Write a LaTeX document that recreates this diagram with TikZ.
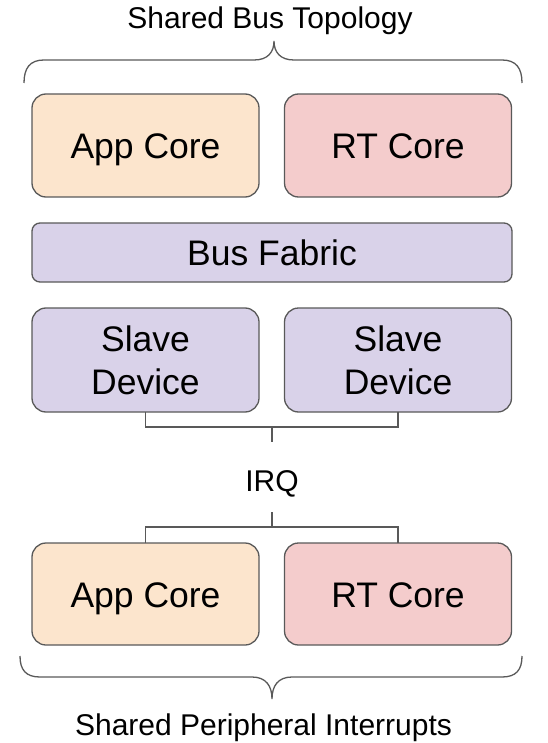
\documentclass[tikz,border=0pt]{standalone}
\usepackage{fontspec}
\setmainfont{Liberation Sans}
\usepackage{tikz}
\usepackage{xcolor}
\definecolor{appcol}{HTML}{FCE5CD}
\definecolor{rtcol}{HTML}{F4CCCC}
\definecolor{buscol}{HTML}{D9D2E9}
\definecolor{edgecol}{HTML}{595959}

\begin{document}
\begin{tikzpicture}[>=latex, x=1pt, y=-1pt,
    blk/.style={draw=edgecol, line width=1.3pt, rounded corners=14pt, inner sep=0pt, outer sep=0pt,
      minimum width=227pt, align=center, font=\fontsize{35.5}{43}\selectfont},
    oneline/.style={text height=26pt, text depth=0pt},
    lbl/.style={inner sep=0pt, font=\fontsize{30}{36}\selectfont},
    wire/.style={draw=edgecol, line width=1.3pt}]
      \pgfmathsetmacro{\xl}{145.5}
      \pgfmathsetmacro{\xr}{398}
      \pgfmathsetmacro{\xm}{272}
      \pgfmathsetmacro{\ya}{145.5}
      \pgfmathsetmacro{\yb}{252.5}
      \pgfmathsetmacro{\ys}{360}
      \pgfmathsetmacro{\yc}{594}
      \useasboundingbox (0,0) rectangle (547,743);

      \node[blk, oneline, fill=appcol, minimum height=103pt] (app1) at (\xl,\ya) {App Core};
      \node[blk, oneline, fill=rtcol, minimum height=103pt] (rt1) at (\xr,\ya) {RT Core};
      \node[blk, oneline, fill=buscol, minimum height=59pt, minimum width=480pt, rounded corners=8pt] (bus) at (\xm,\yb) {Bus Fabric};
      \node[blk, fill=buscol, minimum height=104pt] (sd1) at (\xl,\ys) {Slave\\Device};
      \node[blk, fill=buscol, minimum height=104pt] (sd2) at (\xr,\ys) {Slave\\Device};
      \node[blk, oneline, fill=appcol, minimum height=102pt] (app2) at (\xl,\yc) {App Core};
      \node[blk, oneline, fill=rtcol, minimum height=102pt] (rt2) at (\xr,\yc) {RT Core};
      \node[lbl, text height=28pt, text depth=0pt, minimum height=70pt] (irq) at (\xm,477) {IRQ};
      \node[lbl, anchor=base] (top) at (270,29) {Shared Bus Topology};
      \node[lbl, anchor=base] (bot) at (263.5,735) {Shared Peripheral Interrupts};
      \coordinate (j1) at (\xm,427);
      \coordinate (j2) at (\xm,527);

      \draw[wire] (sd1.south) |- (j1) -| (sd2.south);
      \draw[wire] (j1) -- (irq.north);
      \draw[wire] (irq.south) -- (j2);
      \draw[wire] (app2.north) |- (j2) -| (rt2.north);
      \draw[wire] (24,83) .. controls (24,68) and (30,60) .. (44,60) -- (254,60) .. controls (268,60) and (274,52) .. (274,41)
        .. controls (274,52) and (280,60) .. (294,60) -- (502,60) .. controls (516,60) and (522,68) .. (522,83);
      \draw[wire] (20,656) .. controls (20,670) and (26,677) .. (40,677) -- (252,677) .. controls (266,677) and (272,686) .. (272,699)
        .. controls (272,686) and (278,677) .. (292,677) -- (502,677) .. controls (516,677) and (522,670) .. (522,656);
    \end{tikzpicture}
\end{document}
